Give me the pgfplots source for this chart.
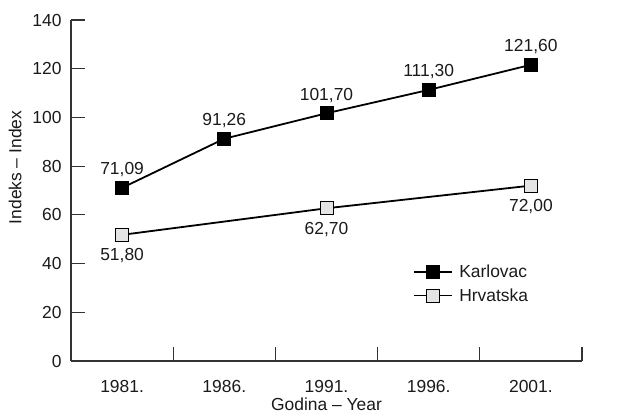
\documentclass[border=0pt]{standalone}
\usepackage{pgfplots}
\pgfplotsset{compat=1.18}
\usepackage{fontspec}
\setmainfont{Liberation Sans}
\definecolor{axgray}{HTML}{333333}
\definecolor{txt}{HTML}{1A1A1A}
\definecolor{lightfill}{HTML}{E4E4E4}
\begin{document}
\begin{tikzpicture}
\begin{axis}[
  scale only axis,
  width=511bp, height=341bp,
  xmin=-0.5, xmax=4.5,
  ymin=0, ymax=140,
  axis x line*=bottom, axis y line*=left,
  axis line style={-, draw=axgray, line width=1.6bp},
  xtick={-0.5,0.5,1.5,2.5,3.5,4.5},
  x tick label as interval,
  xticklabels={1981.,1986.,1991.,1996.,2001.},
  ytick={0,20,...,140},
  tick align=inside,
  major tick length=14bp,
  tick style={draw=axgray, line width=1.1bp},
  /pgf/number format/assume math mode=true,
  tick label style={font=\fontsize{17.5}{20}\selectfont, text=txt},
  xticklabel style={yshift=-16bp},
  yticklabel style={xshift=-6bp},
  label style={font=\fontsize{17.5}{20}\selectfont, text=txt},
  xlabel={Godina -- Year},
  ylabel={Indeks -- Index},
  xlabel style={yshift=2bp},
  ylabel style={yshift=4bp, xshift=23bp},
  legend style={at={(axis cs:2.82,41)}, anchor=north west, draw=none, fill=none,
    font=\fontsize{17.5}{20}\selectfont, text=txt, row sep=5bp,
    nodes={inner xsep=6bp}},
  legend cell align=left,
  legend image code/.code={\draw[mark repeat=2,mark phase=2] plot coordinates {(0bp,0bp)(19bp,0bp)(38bp,0bp)};},
  every node near coord/.append style={font=\fontsize{17.5}{20}\selectfont, text=txt},
]
\addplot[black, line width=1.8bp, mark=square*, mark size=6.5bp,
  mark options={fill=black, draw=black, line width=0.8bp},
  nodes near coords, point meta=explicit symbolic,
  every node near coord/.append style={anchor=south, yshift=7bp}]
  coordinates {(0,71.09) [71,09] (1,91.26) [91,26] (2,101.70) [101,70] (3,111.30) [111,30] (4,121.60) [121,60]};
\addlegendentry{Karlovac}
\addplot[black, line width=1.8bp, mark=square*, mark size=6.5bp,
  mark options={fill=lightfill, draw=black, line width=1bp},
  nodes near coords, point meta=explicit symbolic,
  every node near coord/.append style={anchor=north, yshift=-10bp}]
  coordinates {(0,51.80) [51,80] (2,62.70) [62,70] (4,72.00) [72,00]};
\addlegendentry{Hrvatska}
\end{axis}
\path ([xshift=-71bp,yshift=-57bp]current axis.south west) rectangle ([xshift=45bp,yshift=20bp]current axis.north east);
\end{tikzpicture}
\end{document}
